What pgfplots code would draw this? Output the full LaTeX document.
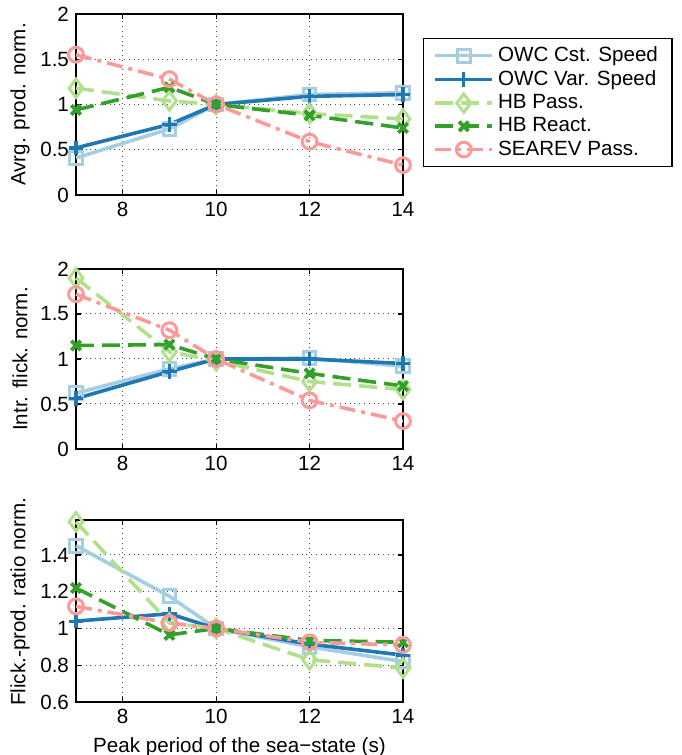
\documentclass[border=0pt]{standalone}
\usepackage{fontspec}
\setmainfont{Liberation Sans}
\usepackage{pgfplots}
\pgfplotsset{compat=1.18}
\definecolor{c1}{RGB}{166,206,227}
\definecolor{c2}{RGB}{31,120,180}
\definecolor{c3}{RGB}{178,223,138}
\definecolor{c4}{RGB}{51,160,44}
\definecolor{c5}{RGB}{251,154,153}
\pgfplotsset{
  base/.style={
    scale only axis, width=163.5pt,
    xmin=7, xmax=14, xtick={8,10,12,14},
    grid=major, grid style={dotted, line width=0.5pt, black!70},
    tick align=inside, major tick length=2.5pt,
    axis line style={line width=0.7pt}, every tick/.style={black, line width=0.6pt},
    font=\fontsize{10.3}{12}\selectfont,
    /pgf/number format/assume math mode=true,
    clip=false,
    ylabel style={at={(axis description cs:-0.171,0.5)}, anchor=center},
  },
  s1/.style={c1, line width=1.8pt, solid, mark=square, mark size=3.2pt, mark options={solid, line width=1.5pt}},
  s2/.style={c2, line width=1.8pt, solid, mark=+, mark size=3.6pt, mark options={solid, line width=1.6pt}},
  s3/.style={c3, line width=1.8pt, dash pattern=on 9pt off 4pt, mark=diamond, mark size=4.6pt, mark options={solid, line width=1.5pt}},
  s4/.style={c4, line width=1.8pt, dash pattern=on 9pt off 4pt, mark=x, mark size=3.3pt, mark options={solid, line width=1.9pt}},
  s5/.style={c5, line width=1.8pt, dash pattern=on 8pt off 3pt on 2pt off 3pt, mark=o, mark size=3.7pt, mark options={solid, line width=1.5pt}},
}
\begin{document}
\begin{tikzpicture}
% ---- Axis 1 ----
\begin{axis}[base, at={(38pt,280pt)}, anchor=south west, height=90.5pt,
  ymin=0, ymax=2, ytick={0,0.5,1,1.5,2},
  ylabel={Avrg. prod. norm.},
  legend style={at={(axis description cs:1.061,0.867)}, anchor=north west,
    draw=black, line width=0.6pt, font=\fontsize{10.3}{12}\selectfont,
    row sep=-1pt, inner xsep=5pt, inner ysep=2pt, cells={anchor=west}},
  legend cell align=left,
  legend image code/.code={\draw[mark repeat=2,mark phase=2,#1] plot coordinates {(0cm,0cm) (0.5cm,0cm) (1cm,0cm)};},
]
\addplot[s1] coordinates {(7,0.41)(9,0.73)(10,1.0)(12,1.11)(14,1.13)};
\addplot[s2] coordinates {(7,0.52)(9,0.78)(10,1.0)(12,1.09)(14,1.11)};
\addplot[s3] coordinates {(7,1.18)(9,1.04)(10,1.0)(12,0.90)(14,0.84)};
\addplot[s4] coordinates {(7,0.94)(9,1.19)(10,1.0)(12,0.88)(14,0.74)};
\addplot[s5] coordinates {(7,1.55)(9,1.28)(10,1.0)(12,0.59)(14,0.33)};
\legend{OWC Cst. Speed, OWC Var. Speed, HB Pass., HB React., SEAREV Pass.}
\end{axis}
% ---- Axis 2 ----
\begin{axis}[base, at={(38pt,153pt)}, anchor=south west, height=90pt,
  ymin=0, ymax=2, ytick={0,0.5,1,1.5,2},
  ylabel={Intr. flick. norm.},
]
\addplot[s1] coordinates {(7,0.62)(9,0.89)(10,1.0)(12,1.01)(14,0.92)};
\addplot[s2] coordinates {(7,0.56)(9,0.86)(10,1.0)(12,1.00)(14,0.95)};
\addplot[s3] coordinates {(7,1.90)(9,1.08)(10,0.98)(12,0.75)(14,0.66)};
\addplot[s4] coordinates {(7,1.15)(9,1.16)(10,1.0)(12,0.84)(14,0.70)};
\addplot[s5] coordinates {(7,1.72)(9,1.32)(10,1.0)(12,0.54)(14,0.31)};
\end{axis}
% ---- Axis 3 ----
\begin{axis}[base, at={(38pt,26.5pt)}, anchor=south west, height=91pt,
  ymin=0.6, ymax=1.59, ytick={0.6,0.8,1,1.2,1.4},
  ylabel={Flick.-prod. ratio norm.},
  ylabel style={at={(axis description cs:-0.171,0.55)}, anchor=center},
  xlabel={Peak period of the sea−state (s)},
]
\addplot[s1] coordinates {(7,1.45)(9,1.175)(10,1.0)(12,0.90)(14,0.82)};
\addplot[s2] coordinates {(7,1.04)(9,1.08)(10,1.0)(12,0.915)(14,0.855)};
\addplot[s3] coordinates {(7,1.58)(9,1.03)(10,1.0)(12,0.83)(14,0.785)};
\addplot[s4] coordinates {(7,1.22)(9,0.965)(10,1.0)(12,0.935)(14,0.925)};
\addplot[s5] coordinates {(7,1.12)(9,1.03)(10,1.0)(12,0.925)(14,0.91)};
\end{axis}
\pgfresetboundingbox
\path[use as bounding box] (0,0) rectangle (340.5pt,377.5pt);
\end{tikzpicture}
\end{document}
